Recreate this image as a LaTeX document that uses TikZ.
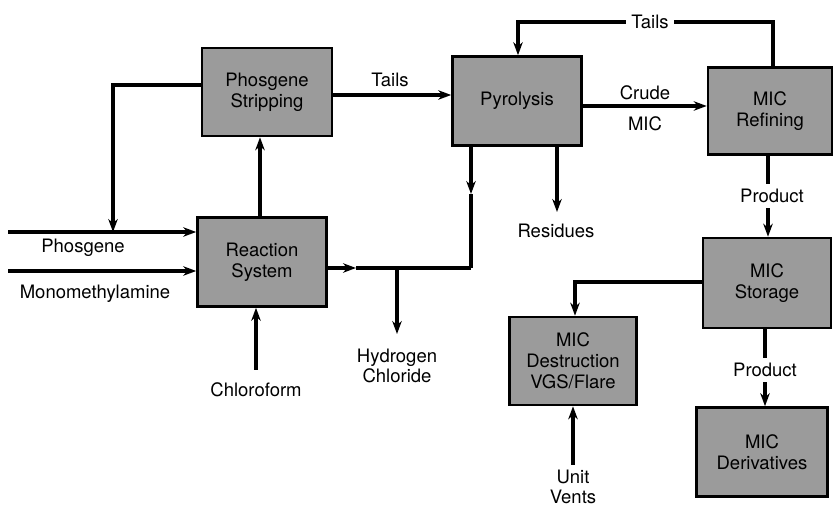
\documentclass[tikz,border=0pt]{standalone}
\usepackage{fontspec}
\setmainfont{TeX Gyre Heros}
\usetikzlibrary{arrows.meta}
\definecolor{boxgray}{RGB}{155,155,155}
\tikzset{
  unit/.style={draw=black, line width=2.6pt, fill=boxgray, align=center,
    font=\fontsize{18.5}{21}\selectfont, inner sep=0pt},
  lbl/.style={align=center, font=\fontsize{18.5}{20.5}\selectfont, inner sep=1pt},
  cut/.style={lbl, fill=white, inner sep=5pt},
  flow/.style={line width=3.2pt, -{Stealth[length=13pt,width=9.5pt]}},
  plain/.style={line width=3.2pt},
}
\begin{document}
\begin{tikzpicture}[x=1pt,y=-1pt]
\useasboundingbox (0,0) rectangle (833,510);
% units
\node[unit, minimum width=130pt, minimum height=88pt] (ps) at (267,92) {Phosgene\\Stripping};
\node[unit, minimum width=129pt, minimum height=89pt] (rs) at (262,262) {Reaction\\System};
\node[unit, minimum width=129pt, minimum height=89pt] (py) at (517,101) {Pyrolysis};
\node[unit, minimum width=124pt, minimum height=87pt] (ref) at (770,111) {MIC\\Refining};
\node[unit, minimum width=128pt, minimum height=90pt] (sto) at (767,283) {MIC\\Storage};
\node[unit, minimum width=127pt, minimum height=88pt] (des) at (573,361) {MIC\\Destruction\\VGS/Flare};
\node[unit, minimum width=131pt, minimum height=89pt] (der) at (762,452) {MIC\\Derivatives};
% labels
\node[lbl] (lphos) at (83,248) {Phosgene};
\node[lbl] (lmma) at (95,294) {Monomethylamine};
\node[lbl] (lchl) at (256,390) {Chloroform};
\node[lbl] (lhcl) at (397,366) {Hydrogen\\Chloride};
\node[lbl] (lres) at (556,231) {Residues};
\node[lbl] (ltails1) at (390,80) {Tails};
\node[lbl] (lcrude) at (645,93) {Crude};
\node[lbl] (lmic) at (645,124) {MIC};
\node[lbl] (lvents) at (573,487) {Unit\\Vents};
% inputs
\coordinate (phin) at (8,232);
\coordinate (mmain) at (8,271);
\draw[flow] (phin) -- (rs.west |- phin);
\draw[flow] (mmain) -- (rs.west |- mmain);
% phosgene recycle
\coordinate (rc1) at (113,85);
\draw[flow] (ps.west |- rc1) -- (rc1) -- (rc1 |- phin);
% reaction -> stripping
\coordinate (rp) at (260,0);
\draw[flow] (rs.north -| rp) -- (ps.south -| rp);
% chloroform
\coordinate (ch) at (256,370);
\draw[flow] (ch) -- (rs.south -| ch);
% tails to pyrolysis
\coordinate (t1) at (0,95);
\draw[flow] (ps.east |- t1) -- (py.west |- t1);
% HCl header
\coordinate (j1) at (471,268);
\coordinate (a1) at (356,268);
\coordinate (a2) at (471,194);
\coordinate (hb) at (397,268);
\coordinate (he) at (397,334);
\draw[flow] (rs.east |- j1) -- (a1);
\draw[plain] (a1) -- (j1);
\draw[flow] (py.south -| j1) -- (a2);
\draw[plain] (a2) -- (j1);
\draw[flow] (hb) -- (he);
% residues
\coordinate (rz) at (557,212);
\draw[flow] (py.south -| rz) -- (rz);
% crude MIC
\coordinate (t2) at (0,106);
\draw[flow] (py.east |- t2) -- (ref.west |- t2);
% tails loop
\coordinate (tl1) at (773,22);
\coordinate (tl2) at (518,22);
\draw[flow] (ref.north -| tl1) -- (tl1) -- (tl2) -- (py.north -| tl2);
\node[cut] (ltails2) at (650,22) {Tails};
% product to storage
\coordinate (p1) at (768,0);
\draw[flow] (ref.south -| p1) -- (sto.north -| p1);
\node[cut] (lprod1) at (772,196) {Product};
% storage to destruction
\coordinate (sd) at (575,282);
\draw[flow] (sto.west |- sd) -- (sd) -- (des.north -| sd);
% product to derivatives
\coordinate (p2) at (765,0);
\draw[flow] (sto.south -| p2) -- (der.north -| p2);
\node[cut] (lprod2) at (765,370) {Product};
% unit vents
\coordinate (uv) at (573,465);
\draw[flow] (uv) -- (des.south -| uv);
\end{tikzpicture}
\end{document}
